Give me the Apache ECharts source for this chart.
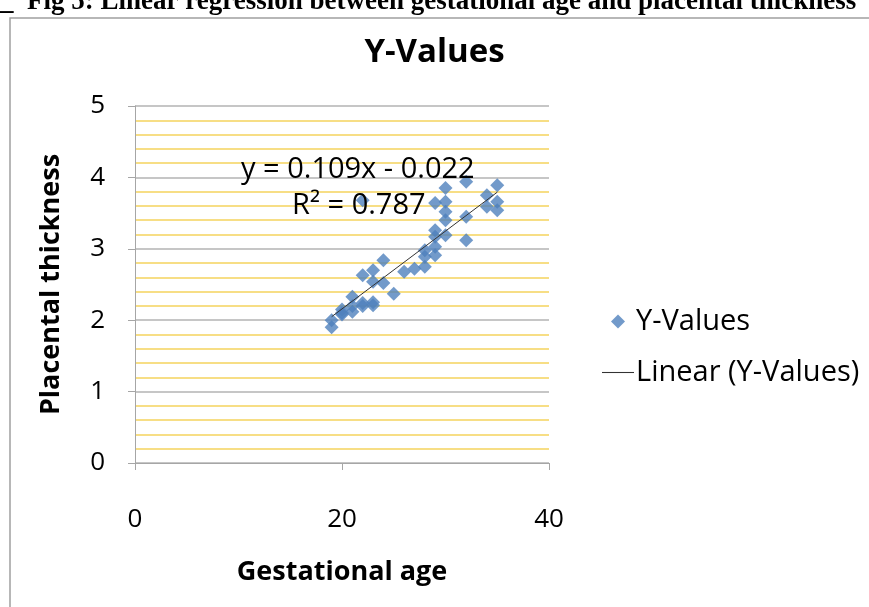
<!DOCTYPE html>
<html>
<head>
<meta charset="utf-8">
<script src="https://cdn.jsdelivr.net/npm/echarts@6/dist/echarts.min.js"></script>
<style>
  html, body { margin: 0; padding: 0; background: #fff; }
  #chart { width: 869px; height: 607px; }
</style>
</head>
<body>
<div id="chart"></div>
<script>
// gestational age (weeks) and placental thickness
const ageValues = [
  19, 19,
  20, 20, 20,
  21, 21, 21,
  22, 22, 22, 22,
  23, 23, 23, 23,
  24, 24,
  25, 26, 27,
  28, 28, 28,
  29, 29, 29, 29, 29,
  30, 30, 30, 30, 30,
  32, 32, 32,
  34, 34,
  35, 35, 35
]
const thicknessValues = [
  1.9, 2.0,
  2.08, 2.15, 2.1,
  2.12, 2.2, 2.33,
  2.63, 2.24, 2.2, 3.68,
  2.7, 2.54, 2.21, 2.25,
  2.84, 2.52,
  2.37, 2.68, 2.72,
  2.75, 2.89, 2.98,
  2.91, 3.03, 3.17, 3.26, 3.64,
  3.19, 3.4, 3.52, 3.66, 3.85,
  3.12, 3.45, 3.94,
  3.59, 3.75,
  3.54, 3.66, 3.89
]
// trendline shown in the chart: y = 0.109x - 0.022
const trendSlope = 0.109
const trendIntercept = -0.022
const xTicks = [0, 20, 40]
const yTicks = [0, 1, 2, 3, 4, 5]

const points = ageValues.map((x, i) => [x, thicknessValues[i]])
const xMin = Math.min(...ageValues)
const xMax = Math.max(...ageValues)
const trendPoints = [xMin, xMax].map(x => [x, trendSlope * x + trendIntercept])

const font = 'Open Sans, Liberation Sans, sans-serif'
const chart = echarts.init(document.getElementById('chart'))

chart.setOption({
  animation: false,
  title: {
    text: 'Y-Values',
    left: 'center',
    top: 31,
    textStyle: { fontFamily: font, fontSize: 33, fontWeight: 'bold', color: '#000' }
  },
  legend: {
    orient: 'vertical',
    left: 597,
    top: 302,
    itemGap: 22,
    itemWidth: 32,
    itemHeight: 14,
    itemStyle: { borderWidth: 0 },
    textStyle: { fontFamily: font, fontSize: 29, color: '#000', padding: [0, 0, 0, -3] },
    data: [
      { name: 'Y-Values', icon: 'path://M16,0L23,7L16,14L9,7Z', itemStyle: { color: '#4f81bd' } },
      { name: 'Linear (Y-Values)', icon: 'path://M0,6.5L30,6.5L30,7.5L0,7.5Z', itemStyle: { color: '#333' } }
    ]
  },
  grid: { left: 135, right: 320, top: 106, bottom: 144 },
  xAxis: {
    type: 'value',
    min: 0,
    max: 40,
    interval: 20,
    name: 'Gestational age',
    nameLocation: 'middle',
    nameGap: 96,
    nameTextStyle: { fontFamily: font, fontSize: 27, fontWeight: 'bold', color: '#000' },
    axisLine: { show: true, lineStyle: { color: '#a6a6a6' } },
    axisTick: { show: true, length: 7, lineStyle: { color: '#a6a6a6' } },
    axisLabel: {
      fontFamily: font, fontSize: 26, color: '#000', margin: 44,
      formatter: v => xTicks.includes(v) ? String(v) : ''
    },
    splitLine: { show: false }
  },
  yAxis: {
    type: 'value',
    min: 0,
    max: 5,
    interval: 1,
    name: 'Placental thickness',
    nameLocation: 'middle',
    nameGap: 70,
    nameTextStyle: { fontFamily: font, fontSize: 27, fontWeight: 'bold', color: '#000' },
    axisLine: { show: true, lineStyle: { color: '#a6a6a6' } },
    axisTick: { show: true, length: 7, lineStyle: { color: '#a6a6a6' } },
    axisLabel: {
      fontFamily: font, fontSize: 26, color: '#000', margin: 30,
      formatter: v => yTicks.includes(v) ? String(v) : ''
    },
    splitLine: { show: true, lineStyle: { color: '#b3b3b3', width: 1.5 } },
    minorTick: { show: false, splitNumber: 5 },
    minorSplitLine: { show: true, lineStyle: { color: '#f5d35e', width: 1.5 } }
  },
  graphic: [
    {
      type: 'rect',
      shape: { x: 10, y: 18, width: 900, height: 620 },
      style: { fill: 'none', stroke: '#a0a0a0', lineWidth: 1.5 },
      z: -10
    },
    {
      type: 'text',
      left: 0,
      top: -11,
      style: {
        text: '_  Fig 5: Linear regression between gestational age and placental thickness',
        font: 'bold 27px "Liberation Serif", serif',
        fill: '#000'
      }
    },
    {
      type: 'text',
      left: 241,
      top: 155,
      z: 100,
      style: { text: 'y = 0.109x - 0.022', font: '29px ' + font, fill: '#000' }
    },
    {
      type: 'text',
      left: 292,
      top: 191,
      z: 100,
      style: { text: 'R² = 0.787', font: '29px ' + font, fill: '#000' }
    }
  ],
  series: [
    {
      name: 'Y-Values',
      type: 'scatter',
      symbol: 'diamond',
      symbolSize: 14,
      itemStyle: { color: '#4f81bd' },
      data: points
    },
    {
      name: 'Linear (Y-Values)',
      type: 'line',
      symbol: 'none',
      lineStyle: { color: '#333', width: 1 },
      z: 3,
      data: trendPoints
    }
  ]
})
</script>
</body>
</html>
